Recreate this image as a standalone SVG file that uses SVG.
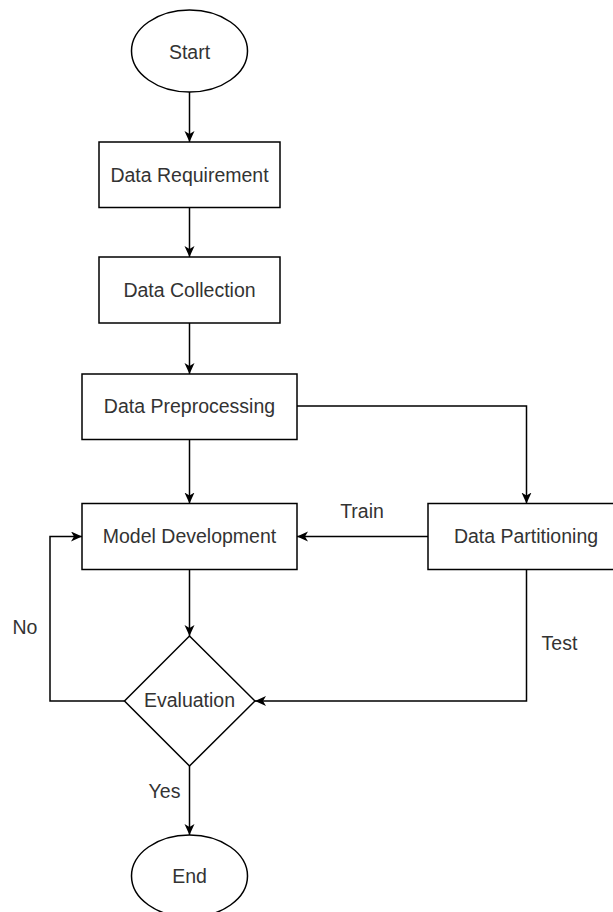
<svg xmlns="http://www.w3.org/2000/svg" width="613" height="912" viewBox="0 0 613 912">
<style>
.shape{fill:#fff;stroke:#000;stroke-width:1.5}
.lbl{font-family:"Liberation Sans",Arial,sans-serif;font-size:19.5px;fill:#333;text-anchor:middle}
.edge{fill:none;stroke:#000;stroke-width:1.5}
</style>
<defs>
<marker id="arr" markerUnits="userSpaceOnUse" markerWidth="12" markerHeight="11" refX="11" refY="5" orient="auto">
<path d="M0,0 L11,5 L0,10 L3,5 z" fill="#000"/>
</marker>
</defs>
<rect width="613" height="912" fill="#fff"/>
<g id="connectors">
<path class="edge" d="M189.5,92 V142" marker-end="url(#arr)"/>
<path class="edge" d="M189.5,207.5 V257" marker-end="url(#arr)"/>
<path class="edge" d="M189.5,323 V374" marker-end="url(#arr)"/>
<path class="edge" d="M189.5,439.5 V503.5" marker-end="url(#arr)"/>
<path class="edge" d="M297,406 H526.5 V503.5" marker-end="url(#arr)"/>
<path class="edge" d="M428,536.5 H297" marker-end="url(#arr)"/>
<path class="edge" d="M189.5,569.5 V636" marker-end="url(#arr)"/>
<path class="edge" d="M526.5,569.5 V701 H255" marker-end="url(#arr)"/>
<path class="edge" d="M124.5,701 H50 V536.5 H82" marker-end="url(#arr)"/>
<path class="edge" d="M189.5,766 V835" marker-end="url(#arr)"/>
<text class="lbl" x="362" y="517.5">Train</text>
<text class="lbl" x="559.5" y="649.5">Test</text>
<text class="lbl" x="25" y="633.5">No</text>
<text class="lbl" x="164.5" y="797.5">Yes</text>
</g>
<g id="start">
<ellipse class="shape" cx="189.5" cy="51" rx="58" ry="41"/>
<text class="lbl" x="189.5" y="58.5">Start</text>
</g>
<g id="data-requirement">
<rect class="shape" x="99" y="142" width="181" height="65.5"/>
<text class="lbl" x="189.5" y="181.5">Data Requirement</text>
</g>
<g id="data-collection">
<rect class="shape" x="99" y="257" width="181" height="66"/>
<text class="lbl" x="189.5" y="296.5">Data Collection</text>
</g>
<g id="data-preprocessing">
<rect class="shape" x="82" y="374" width="215" height="65.5"/>
<text class="lbl" x="189.5" y="413">Data Preprocessing</text>
</g>
<g id="model-development">
<rect class="shape" x="82" y="503.5" width="215" height="66"/>
<text class="lbl" x="189.5" y="543">Model Development</text>
</g>
<g id="data-partitioning">
<rect class="shape" x="428" y="503.5" width="197" height="66"/>
<text class="lbl" x="526" y="543">Data Partitioning</text>
</g>
<g id="evaluation">
<path class="shape" d="M189.5,636 L255,701 L189.5,766 L124.5,701 Z"/>
<text class="lbl" x="189.5" y="707">Evaluation</text>
</g>
<g id="end">
<ellipse class="shape" cx="189.5" cy="876" rx="58" ry="41"/>
<text class="lbl" x="189.5" y="882.5">End</text>
</g>
</svg>
